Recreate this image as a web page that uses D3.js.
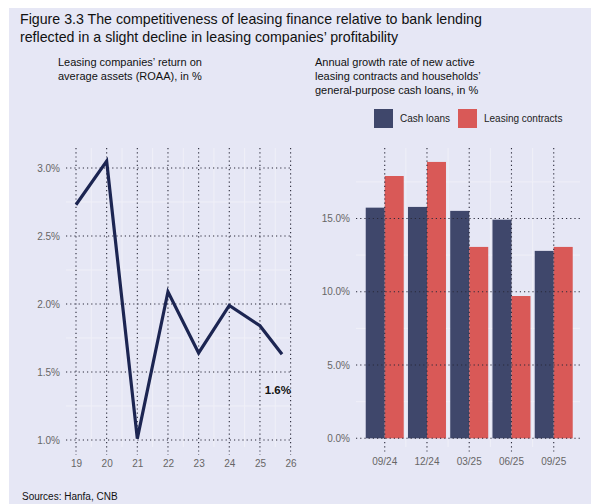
<!DOCTYPE html>
<html>
<head>
<meta charset="utf-8">
<script src="https://cdn.jsdelivr.net/npm/d3@7/dist/d3.min.js"></script>
<style>
  html, body { margin: 0; padding: 0; background: #fff; }
  svg { display: block; font-family: "Liberation Sans", Arial, sans-serif; }
</style>
</head>
<body>
<svg id="chart" width="591" height="504"></svg>
<script>
// ROAA by year (last point is Q3 2025)
const roaaYears = [19, 20, 21, 22, 23, 24, 25, 25.72];
const roaaValues = [2.73, 3.05, 1.01, 2.09, 1.64, 1.99, 1.84, 1.63];
const roaaYTicks = [1.0, 1.5, 2.0, 2.5, 3.0];
const roaaXTicks = [19, 20, 21, 22, 23, 24, 25, 26];
const roaaLabel = "1.6%";

// Annual growth rates, in %
const periods = ["09/24", "12/24", "03/25", "06/25", "09/25"];
const cashLoans = [15.74, 15.79, 15.52, 14.92, 12.79];
const leasingContracts = [17.9, 18.86, 13.06, 9.71, 13.06];
const seriesNames = ["Cash loans", "Leasing contracts"];
const growthYTicks = [0, 5, 10, 15];

const colors = { bg: "#e6e7f5", navy: "#3f476b", red: "#d95957", line: "#1c2552", grid: "#2a2a3a", minor: "#f0f0f8", tick: "#666" };

const svg = d3.select("#chart");

// panel background
svg.append("rect").attr("x", 9).attr("y", 8).attr("width", 582).attr("height", 496).attr("fill", colors.bg);

// titles
const title = svg.append("text").attr("x", 20).attr("font-size", 14.2).attr("fill", "#111");
title.append("tspan").attr("x", 20).attr("y", 24).text("Figure 3.3 The competitiveness of leasing finance relative to bank lending");
title.append("tspan").attr("x", 20).attr("y", 42).text("reflected in a slight decline in leasing companies\u2019 profitability");

function subtitle(x, lines) {
  const t = svg.append("text").attr("font-size", 11).attr("fill", "#111");
  lines.forEach((l, i) => t.append("tspan").attr("x", x).attr("y", 66 + i * 14).text(l));
}
subtitle(58, ["Leasing companies\u2019 return on", "average assets (ROAA), in %"]);
subtitle(315, ["Annual growth rate of new active", "leasing contracts and households\u2019", "general-purpose cash loans, in %"]);

svg.append("text").attr("x", 22).attr("y", 500).attr("font-size", 10).attr("fill", "#111").text("Sources: Hanfa, CNB");

const dots = "1.2,3";

// ---------- left: ROAA line ----------
const xL = d3.scaleLinear().domain([19, 26]).range([76, 290.6]);
const yL = d3.scaleLinear().domain([1.0, 3.0]).range([440, 168]);
const left = svg.append("g");
const lTop = 148, lBot = 455, lLeft = 66, lRight = 291;

// minor grid
d3.range(19.5, 26, 1).forEach(v => left.append("line").attr("x1", xL(v)).attr("x2", xL(v)).attr("y1", lTop).attr("y2", 447).attr("stroke", colors.minor).attr("stroke-width", 1));
d3.range(1.25, 3.1, 0.5).forEach(v => left.append("line").attr("x1", lLeft).attr("x2", lRight).attr("y1", yL(v)).attr("y2", yL(v)).attr("stroke", colors.minor).attr("stroke-width", 1));

// major dotted grid
roaaXTicks.forEach(v => left.append("line").attr("x1", xL(v)).attr("x2", xL(v)).attr("y1", lTop).attr("y2", lBot)
  .attr("stroke", colors.grid).attr("stroke-width", 1.1).attr("stroke-dasharray", dots));
roaaYTicks.forEach(v => left.append("line").attr("x1", lLeft).attr("x2", lRight).attr("y1", yL(v)).attr("y2", yL(v))
  .attr("stroke", colors.grid).attr("stroke-width", 1.1).attr("stroke-dasharray", dots));

// axes (labels only)
const yAxisL = left.append("g").attr("transform", `translate(${lLeft},0)`)
  .call(d3.axisLeft(yL).tickValues(roaaYTicks).tickFormat(d => d3.format(".1f")(d) + "%").tickSize(0).tickPadding(6));
const xAxisL = left.append("g").attr("transform", `translate(0,${lBot})`)
  .call(d3.axisBottom(xL).tickValues(roaaXTicks).tickFormat(d => d).tickSize(0).tickPadding(5));
[yAxisL, xAxisL].forEach(a => { a.select(".domain").remove(); a.selectAll("text").attr("font-size", 10).attr("fill", colors.tick).attr("font-family", "Liberation Sans, Arial, sans-serif"); });

left.append("path")
  .datum(roaaYears.map((x, i) => [x, roaaValues[i]]))
  .attr("d", d3.line().x(d => xL(d[0])).y(d => yL(d[1])))
  .attr("fill", "none").attr("stroke", colors.line).attr("stroke-width", 3.2).attr("stroke-linejoin", "miter");

left.append("text").attr("x", 291).attr("y", 394).attr("text-anchor", "end")
  .attr("font-size", 11.5).attr("font-weight", "bold").attr("fill", "#111").text(roaaLabel);

// ---------- right: grouped bars ----------
const xR = d3.scaleBand().domain(periods).range([363.6, 574.85]).paddingInner(0).paddingOuter(0);
const sub = d3.scaleBand().domain(seriesNames).range([0, 38]);
const yR = d3.scaleLinear().domain([0, 15]).range([438.3, 218.5]);
const right = svg.append("g");
const rTop = 148, rBot = 452, rLeft = 356, rRight = 580;

// minor grid
periods.slice(0).forEach((p, i) => { if (i > 0) { const x = xR(p); right.append("line").attr("x1", x).attr("x2", x).attr("y1", rTop).attr("y2", 447).attr("stroke", colors.minor); } });
[2.5, 7.5, 12.5, 17.5].forEach(v => right.append("line").attr("x1", rLeft).attr("x2", rRight).attr("y1", yR(v)).attr("y2", yR(v)).attr("stroke", colors.minor));

// bars
const barData = periods.map((p, i) => ({ p, vals: [cashLoans[i], leasingContracts[i]] }));
const groups = right.selectAll("g.grp").data(barData).join("g").attr("class", "grp")
  .attr("transform", d => `translate(${xR(d.p) + (xR.bandwidth() - 38) / 2},0)`);
groups.selectAll("rect").data(d => d.vals.map((v, j) => ({ v, s: seriesNames[j] }))).join("rect")
  .attr("x", d => sub(d.s)).attr("width", sub.bandwidth())
  .attr("y", d => yR(d.v)).attr("height", d => yR(0) - yR(d.v))
  .attr("fill", d => d.s === seriesNames[0] ? colors.navy : colors.red);

// dotted grid on top of bars
periods.forEach(p => { const x = xR(p) + xR.bandwidth() / 2; right.append("line").attr("x1", x).attr("x2", x).attr("y1", rTop).attr("y2", rBot)
  .attr("stroke", colors.grid).attr("stroke-width", 1.1).attr("stroke-dasharray", dots); });
growthYTicks.forEach(v => right.append("line").attr("x1", rLeft).attr("x2", rRight).attr("y1", yR(v)).attr("y2", yR(v))
  .attr("stroke", colors.grid).attr("stroke-width", 1.1).attr("stroke-dasharray", dots));

const yAxisR = right.append("g").attr("transform", `translate(${rLeft},0)`)
  .call(d3.axisLeft(yR).tickValues(growthYTicks).tickFormat(d => d3.format(".1f")(d) + "%").tickSize(0).tickPadding(6));
const xAxisR = right.append("g").attr("transform", `translate(0,${rBot})`)
  .call(d3.axisBottom(xR).tickSize(0).tickPadding(6));
[yAxisR, xAxisR].forEach(a => { a.select(".domain").remove(); a.selectAll("text").attr("font-size", 10).attr("fill", colors.tick).attr("font-family", "Liberation Sans, Arial, sans-serif"); });

// legend
const legend = right.append("g");
const legendX = [374, 458];
seriesNames.forEach((s, i) => {
  legend.append("rect").attr("x", legendX[i]).attr("y", 109).attr("width", 19).attr("height", 19)
    .attr("fill", i === 0 ? colors.navy : colors.red);
  legend.append("text").attr("x", legendX[i] + 26).attr("y", 122).attr("font-size", 10).attr("fill", "#222").text(s);
});
</script>
</body>
</html>
